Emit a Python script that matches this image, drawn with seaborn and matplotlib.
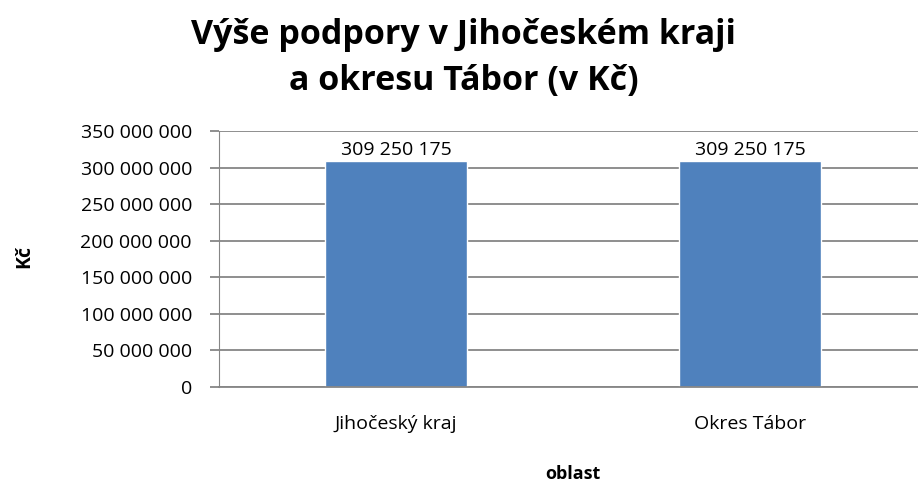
import matplotlib
matplotlib.use("Agg")
import matplotlib.pyplot as plt
import seaborn as sns
import pandas as pd
from matplotlib.ticker import FuncFormatter

oblasti = ["Jihočeský kraj", "Okres Tábor"]
podpora = [309250175, 309250175]
yticks = [0, 50000000, 100000000, 150000000, 200000000, 250000000, 300000000, 350000000]

def fmt(v, pos=None):
    return "{:,}".format(int(v)).replace(",", " ")

sns.set_style("white")
plt.rcParams["font.family"] = ["Open Sans", "DejaVu Sans"]
plt.rcParams["text.color"] = "black"
plt.rcParams["axes.labelcolor"] = "black"
plt.rcParams["xtick.color"] = "black"
plt.rcParams["ytick.color"] = "black"

df = pd.DataFrame({"oblast": oblasti, "Kč": podpora})

fig = plt.figure(figsize=(9.18, 4.82), dpi=100)
ax = fig.add_axes([219 / 918, 1 - 387 / 482, 708 / 918, 256 / 482])

sns.barplot(data=df, x="oblast", y="Kč", color="#4F81BD", saturation=1, width=0.4, ax=ax)

ax.set_xlim(-0.5, 1.5)
ax.set_ylim(0, 350000000)
ax.set_yticks(yticks)
ax.yaxis.set_major_formatter(FuncFormatter(fmt))
ax.grid(axis="y", color="#868686", linewidth=1.3)
ax.set_axisbelow(True)
for s in ["top", "right"]:
    ax.spines[s].set_visible(False)
ax.spines["left"].set_color("#868686")
ax.spines["bottom"].set_color("#868686")
ax.spines["bottom"].set_linewidth(1.3)
ax.tick_params(axis="y", left=True, length=6.5, width=1.3, color="#868686", pad=13, labelsize=14)
ax.tick_params(axis="x", bottom=False, pad=17, labelsize=14)

for i, v in enumerate(podpora):
    ax.text(i, v + 2000000, fmt(v), ha="center", va="bottom", fontsize=14)

ax.set_xlabel("oblast", fontsize=13, fontweight="bold", va="center")
ax.xaxis.set_label_coords((573 - 219) / 708, -(474 - 387) / 256)
ax.set_ylabel("Kč", fontsize=14, fontweight="bold", va="center")
ax.yaxis.set_label_coords(-(219 - 24) / 708, (387 - 257) / 256)
fig.suptitle("Výše podpory v Jihočeském kraji\na okresu Tábor (v Kč)", x=0.505, y=0.962,
             fontsize=24.5, fontweight="bold", linespacing=1.45)

fig.savefig("out.png", dpi=100)
